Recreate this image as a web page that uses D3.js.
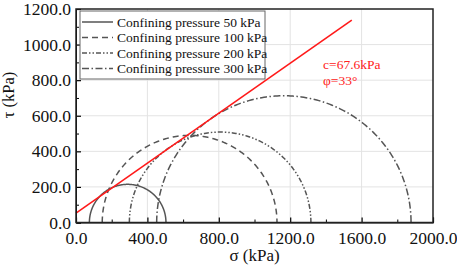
<!DOCTYPE html>
<html>
<head>
<meta charset="utf-8">
<script src="https://cdn.jsdelivr.net/npm/d3@7"></script>
<style>
  body { margin: 0; background: #fff; }
  svg { font-family: "Liberation Serif", "Times New Roman", serif; }
</style>
</head>
<body>
<div id="chart-area"></div>
<script>
// Data
var series = ["Confining pressure 50 kPa", "Confining pressure 100 kPa",
              "Confining pressure 200 kPa", "Confining pressure 300 kPa"];
var sigma3 = [75, 147, 299, 452];
var sigma1 = [504, 1126, 1316, 1877];
var dashes = ["none", "6,4", "5,2,1.5,2,1.5,2", "7,2.5,1.5,2.5"];
var envSigma = [0, 1545];
var envTau = [53, 1137];
var xTicks = [0, 400, 800, 1200, 1600, 2000];
var yTicks = [0, 200, 400, 600, 800, 1000, 1200];

var W = 457, H = 269;
var margin = {top: 9, right: 24, bottom: 46.5, left: 76};
var width = W - margin.left - margin.right;
var height = H - margin.top - margin.bottom;

var svg = d3.select("#chart-area").append("svg")
    .attr("width", W).attr("height", H);
var g = svg.append("g")
    .attr("transform", "translate(" + margin.left + "," + margin.top + ")");

var x = d3.scaleLinear().domain([0, 2000]).range([0, width]);
var y = d3.scaleLinear().domain([0, 1200]).range([height, 0]);

// grid
g.append("g").selectAll("line").data(xTicks.slice(1, -1)).enter().append("line")
    .attr("x1", d => x(d)).attr("x2", d => x(d))
    .attr("y1", 0).attr("y2", height)
    .attr("stroke", "#e3e3e3").attr("stroke-width", 1);
g.append("g").selectAll("line").data(yTicks.slice(1, -1)).enter().append("line")
    .attr("y1", d => y(d)).attr("y2", d => y(d))
    .attr("x1", 0).attr("x2", width)
    .attr("stroke", "#e3e3e3").attr("stroke-width", 1);

// Mohr circles
var arc = d3.line().x(d => x(d[0])).y(d => y(d[1]));
var circles = series.map((s, i) => {
    var c = (sigma3[i] + sigma1[i]) / 2, r = (sigma1[i] - sigma3[i]) / 2;
    return d3.range(0, 181).map(a => {
        var t = Math.PI * (1 - a / 180);
        return [c + r * Math.cos(t), r * Math.sin(t)];
    });
});
g.selectAll(".mohr").data(circles).enter().append("path")
    .attr("class", "mohr")
    .attr("d", arc)
    .attr("fill", "none")
    .attr("stroke", "#555")
    .attr("stroke-width", 1.5)
    .attr("stroke-dasharray", (d, i) => dashes[i]);

// strength envelope
g.append("path")
    .datum(envSigma.map((s, i) => [s, envTau[i]]))
    .attr("d", arc)
    .attr("fill", "none")
    .attr("stroke", "#ff1a1a")
    .attr("stroke-width", 1.6);

g.append("text").attr("x", x(1384)).attr("y", 60)
    .attr("font-size", "13.5px").attr("fill", "#ff2020").text("c=67.6kPa");
g.append("text").attr("x", x(1384)).attr("y", 76)
    .attr("font-size", "13.5px").attr("fill", "#ff2020").text("φ=33°");

// axes
var bottomAxis = d3.axisBottom(x).tickValues(xTicks).tickSize(-5).tickPadding(9)
    .tickFormat(d3.format(".1f"));
var gx = g.append("g").attr("transform", "translate(0," + height + ")").call(bottomAxis);
gx.selectAll(".tick line").attr("stroke-width", 1.2);
g.append("g").attr("transform", "translate(0," + height + ")")
    .call(d3.axisBottom(x).tickValues(d3.range(200, 2000, 400)).tickSize(-3).tickFormat(""))
    .select(".domain").remove();

var leftAxis = d3.axisLeft(y).tickValues(yTicks).tickSize(-5).tickPadding(5)
    .tickFormat(d3.format(".1f"));
var gy = g.append("g").call(leftAxis);
gy.selectAll(".tick line").attr("stroke-width", 1.2);
g.append("g")
    .call(d3.axisLeft(y).tickValues(d3.range(100, 1200, 200)).tickSize(-3).tickFormat(""))
    .select(".domain").remove();

g.selectAll(".tick text").attr("font-size", "17.5px")
    .attr("font-family", "Liberation Serif").attr("fill", "#111");

// frame
g.append("rect").attr("width", width).attr("height", height)
    .attr("fill", "none").attr("stroke", "#222").attr("stroke-width", 1.5);

// axis titles
g.append("text").attr("x", width / 2).attr("y", height + 38)
    .attr("text-anchor", "middle").attr("font-size", "17px").attr("fill", "#111")
    .text("σ (kPa)");
g.append("text").attr("transform", "rotate(-90)")
    .attr("x", -86).attr("y", -62)
    .attr("text-anchor", "middle").attr("font-size", "16.5px").attr("fill", "#111")
    .text("τ (kPa)");

// legend
var leg = svg.append("g").attr("transform", "translate(80,11)");
leg.append("rect").attr("width", 185).attr("height", 68)
    .attr("fill", "#fff").attr("stroke", "#666").attr("stroke-width", 1);
var row = leg.selectAll(".row").data(series).enter().append("g")
    .attr("transform", (d, i) => "translate(0," + (11 + i * 15.5) + ")");
row.append("line").attr("x1", 2).attr("x2", 33)
    .attr("stroke", "#555").attr("stroke-width", 1.5)
    .attr("stroke-dasharray", (d, i) => dashes[i]);
row.append("text").attr("x", 37).attr("y", 4.5)
    .attr("font-size", "13.5px").attr("fill", "#111").text(d => d);
</script>
</body>
</html>
